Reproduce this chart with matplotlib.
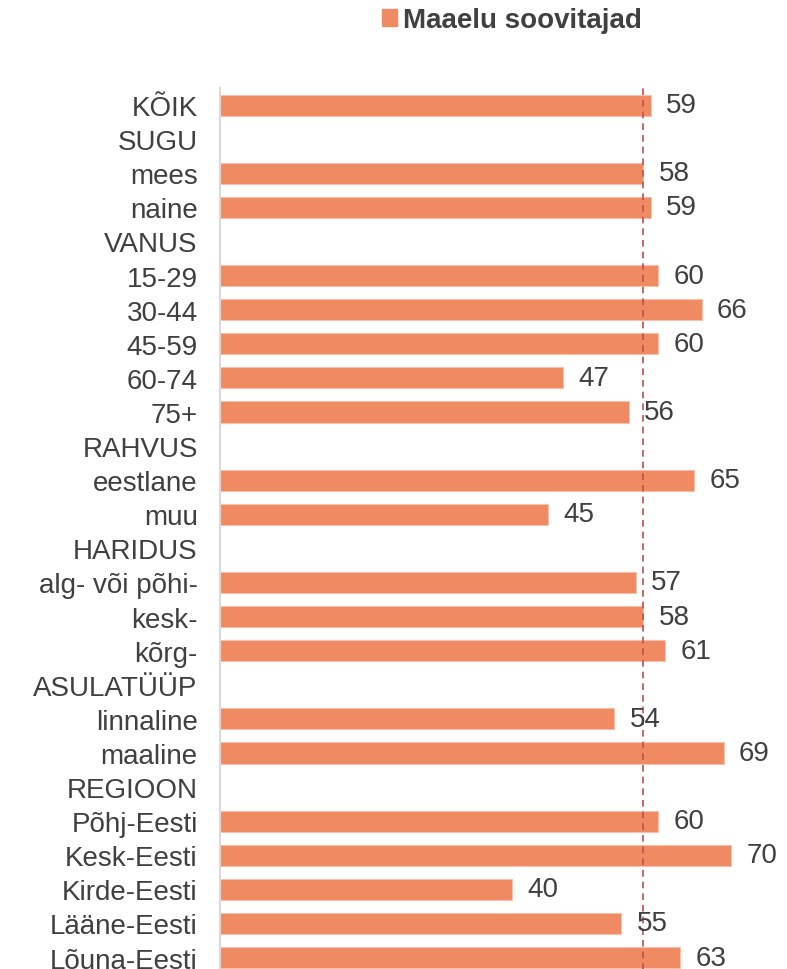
import matplotlib.pyplot as plt
from matplotlib.patches import Patch

plt.rcParams['font.family'] = ['Liberation Sans', 'DejaVu Sans']

categories = ["KÕIK", "SUGU", "mees", "naine", "VANUS", "15-29", "30-44", "45-59",
              "60-74", "75+", "RAHVUS", "eestlane", "muu", "HARIDUS",
              "alg- või põhi-", "kesk-", "kõrg-", "ASULATÜÜP", "linnaline",
              "maaline", "REGIOON", "Põhj-Eesti", "Kesk-Eesti", "Kirde-Eesti",
              "Lääne-Eesti", "Lõuna-Eesti"]
values = [59, None, 58, 59, None, 60, 66, 60, 47, 56, None, 65, 45, None,
          57, 58, 61, None, 54, 69, None, 60, 70, 40, 55, 63]
series_name = "Maaelu soovitajad"
average = 58

bar_color = "#F08A62"
text_color = "#404040"

fig = plt.figure(figsize=(7.87, 9.70), dpi=100)
ax = fig.add_axes([220 / 787, -0.0058, 562 / 787, 0.914])

ys = list(range(len(categories)))
for y, v in zip(ys, values):
    if v is None:
        continue
    ax.barh(y, v, height=0.62, color=bar_color, edgecolor="#F6C0AA", linewidth=0.8)
    ax.text(v + 2.1, y, str(v), va="center", ha="left", fontsize=20, color=text_color)

ax.axvline(average, color="#C0504D", linestyle=(0, (4, 3)), linewidth=1.2)

ax.set_ylim(len(categories) - 0.5, -0.5)
ax.set_xlim(0, 77)
ax.set_yticks(ys)
ax.set_yticklabels(categories, fontsize=20, color=text_color)
ax.tick_params(axis="y", length=0, pad=16)
ax.set_xticks([])
for s in ["top", "right", "bottom"]:
    ax.spines[s].set_visible(False)
ax.spines["left"].set_color("#D9D9D9")
ax.spines["left"].set_linewidth(1.5)

handle = Patch(facecolor=bar_color, edgecolor=bar_color)
fig.legend(handles=[handle], labels=[series_name], loc="center",
           bbox_to_anchor=(512 / 787, 1 - 21 / 970), frameon=False,
           prop={"size": 20, "weight": "bold"}, labelcolor=text_color,
           handlelength=0.55, handleheight=0.55, handletextpad=0.2)

fig.savefig("out.png", dpi=100)
